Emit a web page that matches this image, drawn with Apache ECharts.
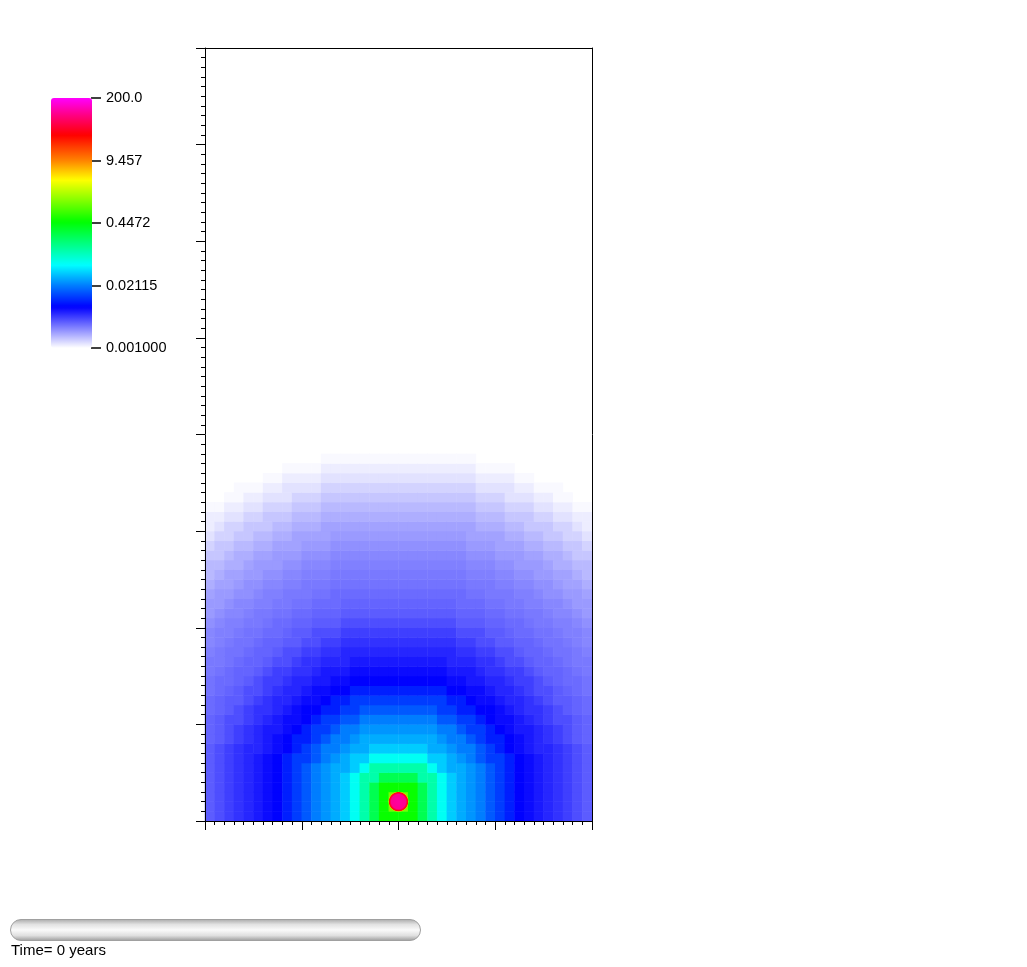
<!DOCTYPE html>
<html>
<head>
<meta charset="utf-8">
<script src="https://cdn.jsdelivr.net/npm/echarts@6/dist/echarts.min.js"></script>
<style>
html,body{margin:0;padding:0;background:#fff;}
#chart{width:1027px;height:967px;}
</style>
</head>
<body>
<div id="chart"></div>
<script>
// ---- data ----
const nCols = 40;               // grid cells along x
const nRows = 80;               // grid cells along y
const sourcePos = [20, 2];      // source location (cell units)
const sourceValue = 200;        // peak value at the source
// concentration read along rings around the source (radius in cell units)
const ringRadius = [1, 2, 3, 4, 5, 6, 7, 8, 9, 10, 11, 12, 13, 14, 15, 16, 17, 18,
  19, 20, 21, 22, 23, 24, 25, 26, 27, 28, 29, 30, 31, 32, 33, 34, 35, 36];
const ringValue = [1.2, 0.50, 0.24, 0.116, 0.063, 0.039, 0.0305, 0.0254, 0.0211, 0.0156,
  0.0122, 0.0095, 0.0075, 0.0068, 0.0061, 0.0055, 0.0050, 0.0045, 0.0040, 0.0036,
  0.0034, 0.0032, 0.0030, 0.00286, 0.00272, 0.00256, 0.00238, 0.00221, 0.00208,
  0.00189, 0.00173, 0.00157, 0.00141, 0.00126, 0.00115, 0.00105];
const colorbarLabels = ['0.001000', '0.02115', '0.4472', '9.457', '200.0'];
const rangeMin = 0.001, rangeMax = 200.0;
const timeLabel = 'Time= 0 years';

// ---- colour map (style) ----
const cmapStops = [[0, [255,255,255]], [0.164, [0,0,255]], [0.252, [0,128,255]],
  [0.332, [0,255,255]], [0.504, [0,255,0]], [0.672, [255,255,0]], [0.752, [255,128,0]],
  [0.852, [255,0,0]], [0.93, [255,0,128]], [1, [255,0,255]]];
function cmapAt(t) {
  for (let k = 1; k < cmapStops.length; k++) {
    const a = cmapStops[k-1], b = cmapStops[k];
    if (t <= b[0]) {
      const f = (t - a[0]) / (b[0] - a[0]);
      const c = a[1].map((v, q) => Math.round(v + (b[1][q] - v) * f));
      return 'rgb(' + c.join(',') + ')';
    }
  }
  return 'rgb(255,0,255)';
}
const cmap = [];
for (let k = 0; k <= 200; k++) cmap.push(cmapAt(k / 200));

const LOG_MIN = Math.log10(rangeMin), LOG_MAX = Math.log10(rangeMax);

const xCats = [], yCats = [];
for (let i = 0; i < nCols; i++) xCats.push(String(i));
for (let j = 0; j < nRows; j++) yCats.push(String(j));

function ringLookup(r) {
  let best = 0, bd = Infinity;
  for (let k = 0; k < ringRadius.length; k++) {
    const d = Math.abs(ringRadius[k] - r);
    if (d < bd) { bd = d; best = k; }
  }
  return ringValue[best];
}
const cells = [];
for (let i = 0; i < nCols; i++) {
  for (let j = 0; j < nRows; j++) {
    const dx = i + 0.5 - sourcePos[0], dy = j + 0.5 - sourcePos[1];
    const r = Math.sqrt(dx*dx + dy*dy);
    if (r > ringRadius[ringRadius.length-1] + 0.5) continue;
    const v = ringLookup(r);
    if (v < rangeMin) continue;
    cells.push([i, j, Math.log10(v), v]);
  }
}

const chart = echarts.init(document.getElementById('chart'), null, {renderer: 'canvas'});
const axisBlack = {lineStyle: {color: '#000', width: 1}};
const plotBox = {left: 205, top: 48, width: 387, height: 773, show: false};
const option = {
  backgroundColor: '#ffffff',
  animation: false,
  grid: [
    plotBox,
    {left: 91, top: 98, width: 1, height: 250, show: false},
    Object.assign({}, plotBox)
  ],
  xAxis: [
    {type: 'value', gridIndex: 0, position: 'bottom', min: 0, max: nCols, interval: 10, z: 10,
      axisLine: {show: true, onZero: false, ...axisBlack},
      axisTick: {show: true, length: 9, ...axisBlack},
      minorTick: {show: true, splitNumber: 10, length: 4, ...axisBlack},
      axisLabel: {show: false}, splitLine: {show: false}},
    {type: 'value', gridIndex: 0, position: 'top', min: 0, max: nCols, z: 10,
      axisLine: {show: true, onZero: false, ...axisBlack},
      axisTick: {show: false}, axisLabel: {show: false}, splitLine: {show: false}},
    {type: 'value', gridIndex: 1, show: false, min: 0, max: 1},
    {type: 'category', gridIndex: 2, data: xCats, show: false}
  ],
  yAxis: [
    {type: 'value', gridIndex: 0, position: 'left', min: 0, max: nRows, interval: 10, z: 10,
      axisLine: {show: true, onZero: false, ...axisBlack},
      axisTick: {show: true, length: 9, ...axisBlack},
      minorTick: {show: true, splitNumber: 10, length: 4, ...axisBlack},
      axisLabel: {show: false}, splitLine: {show: false}},
    {type: 'value', gridIndex: 0, position: 'right', min: 0, max: nRows, z: 10,
      axisLine: {show: true, onZero: false, ...axisBlack},
      axisTick: {show: false}, axisLabel: {show: false}, splitLine: {show: false}},
    {type: 'value', gridIndex: 1, position: 'right', min: 0, max: colorbarLabels.length - 1, interval: 1,
      axisLine: {show: false},
      axisTick: {show: true, length: 10, lineStyle: {color: '#000', width: 1.5}},
      axisLabel: {show: true, margin: 14, color: '#000', fontSize: 14.5, padding: [3, 0, 0, 0],
        fontFamily: 'Liberation Sans, Arial, sans-serif',
        formatter: (v) => colorbarLabels[Math.round(v)]},
      splitLine: {show: false}},
    {type: 'category', gridIndex: 2, data: yCats, show: false}
  ],
  visualMap: {
    type: 'continuous', min: LOG_MIN, max: LOG_MAX, dimension: 2, seriesIndex: 0,
    calculable: false, left: 51, top: 98, itemWidth: 41, itemHeight: 250, padding: 0,
    text: null, showLabel: false,
    inRange: {color: cmap}, outOfRange: {color: '#ffffff'}
  },
  series: [
    {type: 'heatmap', xAxisIndex: 3, yAxisIndex: 3, data: cells, z: 2,
      itemStyle: {borderWidth: 0}, emphasis: {disabled: true}},
    {type: 'scatter', xAxisIndex: 0, yAxisIndex: 0, z: 5,
      data: [[sourcePos[0], sourcePos[1], sourceValue]],
      symbol: 'circle', symbolSize: 20, silent: true,
      itemStyle: {opacity: 1, color: {type: 'radial', x: 0.5, y: 0.5, r: 0.5, colorStops: [
        {offset: 0, color: '#ff00a0'}, {offset: 0.72, color: '#ff0090'},
        {offset: 0.84, color: '#ff0040'}, {offset: 0.92, color: '#ff1000'}, {offset: 1, color: '#ffd000'}]}}}
  ],
  graphic: [
    {type: 'rect', shape: {x: 10.5, y: 919.5, width: 410, height: 21, r: 10.5},
      style: {fill: {type: 'linear', x: 0, y: 0, x2: 0, y2: 1, colorStops: [
        {offset: 0, color: '#a8a8a8'}, {offset: 0.25, color: '#e2e2e2'},
        {offset: 0.5, color: '#fafafa'}, {offset: 0.75, color: '#e0e0e0'}, {offset: 1, color: '#9a9a9a'}]},
        stroke: '#a0a0a0', lineWidth: 1}},
    {type: 'text', left: 11, top: 943,
      style: {text: timeLabel, fill: '#000', fontSize: 15, fontFamily: 'Liberation Sans, Arial, sans-serif'}}
  ]
};
chart.setOption(option);
</script>
</body>
</html>
